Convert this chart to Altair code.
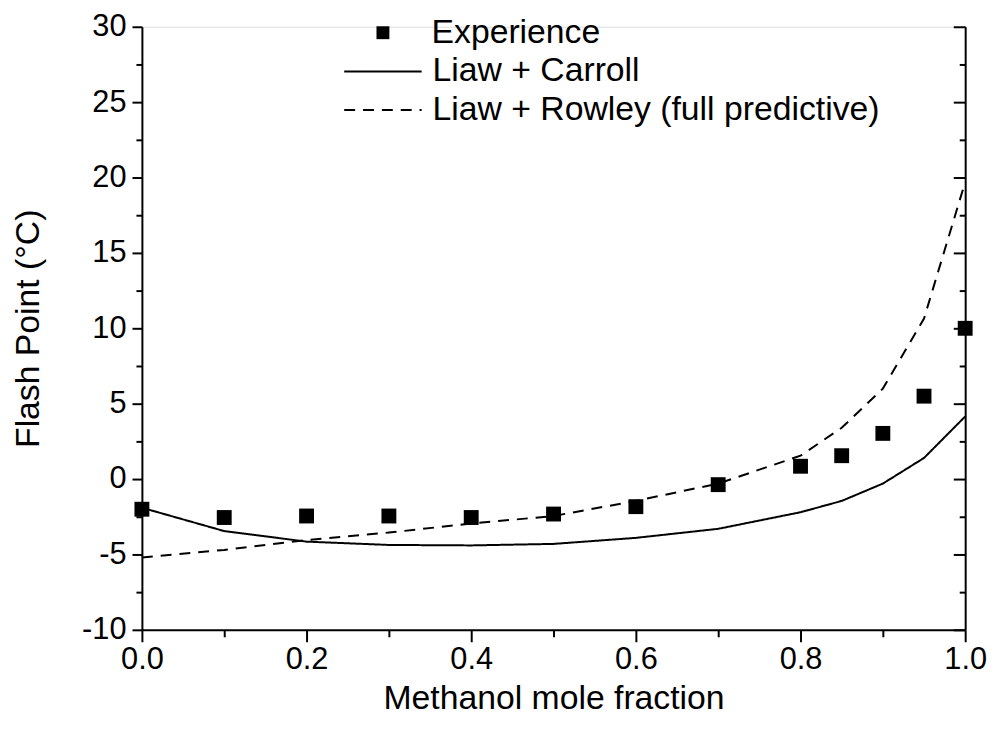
import altair as alt
import pandas as pd

# ---- data ----
exp_x = [0.0, 0.1, 0.2, 0.3, 0.4, 0.5, 0.6, 0.7, 0.8, 0.85, 0.9, 0.95, 1.0]
exp_y = [-2.0, -2.55, -2.45, -2.45, -2.55, -2.32, -1.83, -0.37, 0.85, 1.55, 3.03, 5.5, 10.0]

model_x = [0.0, 0.1, 0.2, 0.3, 0.4, 0.5, 0.6, 0.7, 0.8, 0.85, 0.9, 0.95, 1.0]
carroll_y = [-1.9, -3.45, -4.15, -4.37, -4.4, -4.3, -3.9, -3.3, -2.2, -1.45, -0.3, 1.4, 4.15]
rowley_y = [-5.2, -4.7, -4.05, -3.55, -2.95, -2.45, -1.45, -0.3, 1.55, 3.4, 6.0, 10.65, 19.7]

point_series = ["Experience"]
line_series = ["Liaw + Carroll", "Liaw + Rowley (full predictive)"]

x_ticks = [round(i * 0.1, 1) for i in range(11)]
y_ticks = [-10 + 2.5 * i for i in range(17)]

pts = pd.DataFrame({"x": exp_x, "y": exp_y, "series": point_series[0]})
lines = pd.concat([
    pd.DataFrame({"x": model_x, "y": carroll_y, "series": line_series[0]}),
    pd.DataFrame({"x": model_x, "y": rowley_y, "series": line_series[1]}),
])

FONT = "Liberation Sans"

xscale = alt.Scale(domain=[0, 1], nice=False, zero=False)
yscale = alt.Scale(domain=[-10, 30], nice=False, zero=False)

x_axis = alt.Axis(
    values=x_ticks, format=".1f", title="Methanol mole fraction",
    labelExpr="round(datum.value*10) % 2 == 0 ? format(datum.value, '.1f') : ''",
    tickSize={"condition": {"test": "round(datum.value*10) % 2 == 0", "value": 12}, "value": 7},
    grid=False, domainColor="black", domainWidth=2, tickColor="black", tickWidth=2,
    labelFont=FONT, labelFontSize=31, labelColor="black", labelPadding=3,
    titleFont=FONT, titleFontSize=34, titleFontWeight="normal", titleColor="black",
    titlePadding=7, labelFlush=False, labelOverlap=False,
)
y_axis = alt.Axis(
    values=y_ticks, title="Flash Point (°C)", orient="left",
    labelExpr="datum.value % 5 == 0 ? '' + datum.value : ''",
    tickSize={"condition": {"test": "datum.value % 5 == 0", "value": 10}, "value": 6},
    grid=False, domainColor="black", domainWidth=2, tickColor="black", tickWidth=2,
    labelFont=FONT, labelFontSize=31, labelColor="black", labelPadding=6,
    titleFont=FONT, titleFontSize=34, titleFontWeight="normal", titleColor="black",
    titlePadding=36, labelFlush=False, labelOverlap=False,
)
y_axis_right = alt.Axis(
    values=y_ticks, title=None, orient="left", offset=-830, labels=False,
    tickSize={"condition": {"test": "datum.value % 5 == 0", "value": 12}, "value": 6},
    grid=False, domainColor="black", domainWidth=2, tickColor="black", tickWidth=2,
)

common_legend = dict(
    title=None, orient="none", padding=0,
    labelFont=FONT, labelFontSize=34, labelColor="black",
    symbolStrokeColor="black", symbolStrokeWidth=2,
    rowPadding=5, labelLimit=600,
)
point_legend = alt.Legend(legendX=226, legendY=-11, symbolFillColor="black",
                          symbolSize=169, labelOffset=32, **common_legend)
line_legend = alt.Legend(legendX=226, legendY=28, symbolType="M-7.1,0H7.1",
                         symbolSize=121, labelOffset=33, **common_legend)

shape_scale = alt.Scale(domain=point_series, range=["square"])
dash_scale = alt.Scale(domain=line_series, range=[[1, 0], [11, 8]])

line_layer = alt.Chart(lines).mark_line(color="black", strokeWidth=2).encode(
    x=alt.X("x:Q", scale=xscale, axis=x_axis),
    y=alt.Y("y:Q", scale=yscale, axis=y_axis),
    strokeDash=alt.StrokeDash("series:N", scale=dash_scale, legend=line_legend),
    detail="series:N",
)

point_layer = alt.Chart(pts).mark_point(filled=True, color="black", size=225, opacity=1).encode(
    x=alt.X("x:Q", scale=xscale, axis=x_axis),
    y=alt.Y("y:Q", scale=yscale, axis=y_axis_right),
    shape=alt.Shape("series:N", scale=shape_scale, legend=point_legend),
)

chart = alt.layer(line_layer, point_layer).resolve_axis(y="independent").properties(
    width=830, height=608,
    autosize="none",
    padding={"left": 135, "top": 16, "right": 22, "bottom": 90},
).configure_view(stroke="black", strokeWidth=2).configure(background="white")

chart.save("out.html", embed_options={"renderer": "svg", "actions": False})
